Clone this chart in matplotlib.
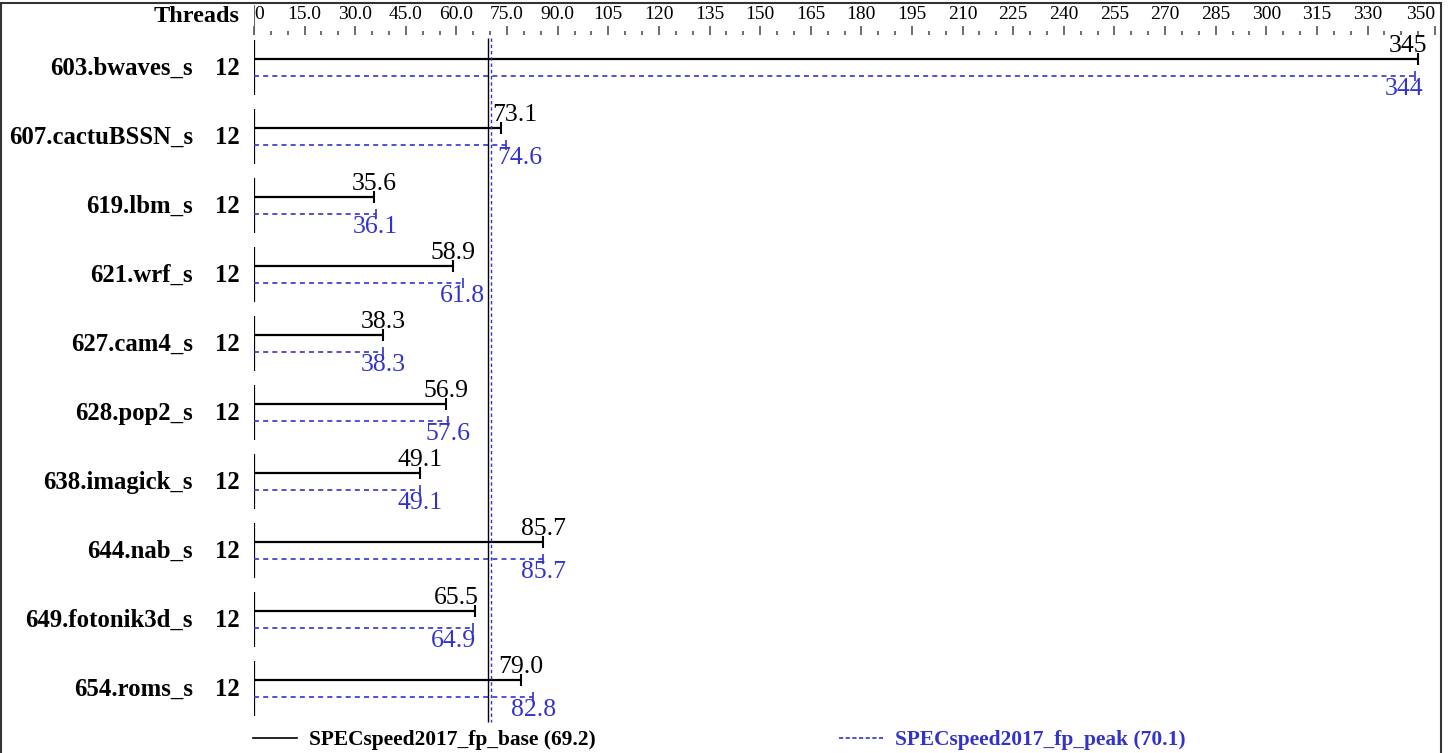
import matplotlib
matplotlib.use('Agg')
import matplotlib.pyplot as plt
from matplotlib.patches import Rectangle
from matplotlib.lines import Line2D
from matplotlib.transforms import blended_transform_factory

benchmarks = ['603.bwaves_s', '607.cactuBSSN_s', '619.lbm_s', '621.wrf_s', '627.cam4_s',
              '628.pop2_s', '638.imagick_s', '644.nab_s', '649.fotonik3d_s', '654.roms_s']
threads = [12, 12, 12, 12, 12, 12, 12, 12, 12, 12]
base = [345, 73.1, 35.6, 58.9, 38.3, 56.9, 49.1, 85.7, 65.5, 79.0]
peak = [344, 74.6, 36.1, 61.8, 38.3, 57.6, 49.1, 85.7, 64.9, 82.8]
base_score = 69.2
peak_score = 70.1
major_ticks = [0, 15, 30, 45, 60, 75, 90, 105, 120, 135, 150, 165, 180, 195, 210, 225,
               240, 255, 270, 285, 300, 315, 330, 350]
tick_labels = ['0', '15.0', '30.0', '45.0', '60.0', '75.0', '90.0', '105', '120', '135', '150',
               '165', '180', '195', '210', '225', '240', '255', '270', '285', '300', '315',
               '330', '350']

BLUE = '#3333cc'
plt.rcParams['font.family'] = ['Liberation Serif', 'DejaVu Serif']

W, H = 1450, 753
fig = plt.figure(figsize=(14.5, 7.53), dpi=100)
ax = fig.add_axes([254 / W, 0, (1435 - 254) / W, 1])
ax.set_xlim(0, 350)
ax.set_ylim(H, 0)  # y in pixel-like layout units, top = 0

for s in ['left', 'right', 'bottom']:
    ax.spines[s].set_visible(False)
ax.spines['top'].set_position(('data', 35))
ax.spines['top'].set_visible(False)
ax.xaxis.tick_top()
ax.set_xticks(major_ticks)
ax.set_xticklabels(tick_labels)
ax.set_xticks([m for m in range(5, 350, 5) if m not in major_ticks], minor=True)
ax.tick_params(axis='x', which='major', direction='out', length=6.3, width=1.2,
               color='#555555', labelsize=14, pad=2.2)
ax.tick_params(axis='x', which='minor', direction='out', length=2.8, width=1.2, color='#555555')
ax.set_yticks([])
lbls = ax.get_xticklabels()
lbls[0].set_ha('left')
lbls[0].set_x(1.5)
lbls[-1].set_ha('right')
ax.vlines(0, 5, 35, color='#666666', lw=1.5)

trans = blended_transform_factory(fig.transFigure, ax.transData)
fig.text(240 / W, 1 - 17 / H, 'Threads', ha='right', va='center', fontsize=17.5, fontweight='bold')

row_h = 69
first_center = 67.5
for i, name in enumerate(benchmarks):
    yc = first_center + row_h * i
    yb = yc - 8.5
    yp = yc + 8.5
    ax.text(193 / W, yc + 1, name, transform=trans, ha='right', va='center',
            fontsize=17.8, fontweight='bold')
    ax.text(240 / W, yc + 1, str(threads[i]), transform=trans, ha='right', va='center',
            fontsize=17.8, fontweight='bold')
    ax.vlines(0, yc - 27.5, yc + 27.5, color='black', lw=1.6)

    ax.hlines(yb, 0, base[i], color='black', lw=1.6)
    ax.plot(base[i], yb, marker='|', ms=8, mew=1.5, color='black')
    ax.hlines(yp, 0, peak[i], color=BLUE, lw=1.2, linestyles=(0, (3, 2.5)))
    ax.plot(peak[i], yp, marker='|', ms=7, mew=1.2, color=BLUE)

    for v, y, col, va in [(base[i], yb - 2, 'black', 'bottom'), (peak[i], yp + 2, BLUE, 'top')]:
        txt = f'{v:.0f}' if v >= 100 else f'{v:.1f}'
        mid = (base_score + peak_score) / 2
        if v > 340:
            x, ha = v + 2.6, 'right'
        elif abs(v - mid) < 7 and v > mid:
            x, ha = v - 2.5, 'left'
        elif abs(v - mid) < 7:
            x, ha = v + 1, 'right'
        else:
            x, ha = v, 'center'
        ax.text(x, y, txt, ha=ha, va=va, fontsize=18.5, color=col)

ax.vlines(base_score, 38, 722, color='black', lw=1.0)
ax.vlines(peak_score, 38, 722, color=BLUE, lw=1.0, linestyles=(0, (2.5, 2)))

handles = [Line2D([], [], color='black', lw=1.2),
           Line2D([], [], color=BLUE, lw=1.2, ls=(0, (2.5, 1.5)))]
leg = fig.legend(handles, [f'SPECspeed2017_fp_base ({base_score})',
                           f'SPECspeed2017_fp_peak ({peak_score})'],
                 loc='center left', bbox_to_anchor=(253 / W, 1 - 740 / H), ncol=2,
                 frameon=False, borderpad=0, borderaxespad=0, handlelength=2.05,
                 handletextpad=0.55, columnspacing=11.4,
                 prop={'size': 15.4, 'weight': 'bold'})
leg.get_texts()[1].set_color(BLUE)

fig.add_artist(Rectangle((1 / W, -0.05), 1440 / W, 1.05 - 3 / H, transform=fig.transFigure,
                         fill=False, ec='#333333', lw=1.5))

fig.savefig('out.png', dpi=100)
